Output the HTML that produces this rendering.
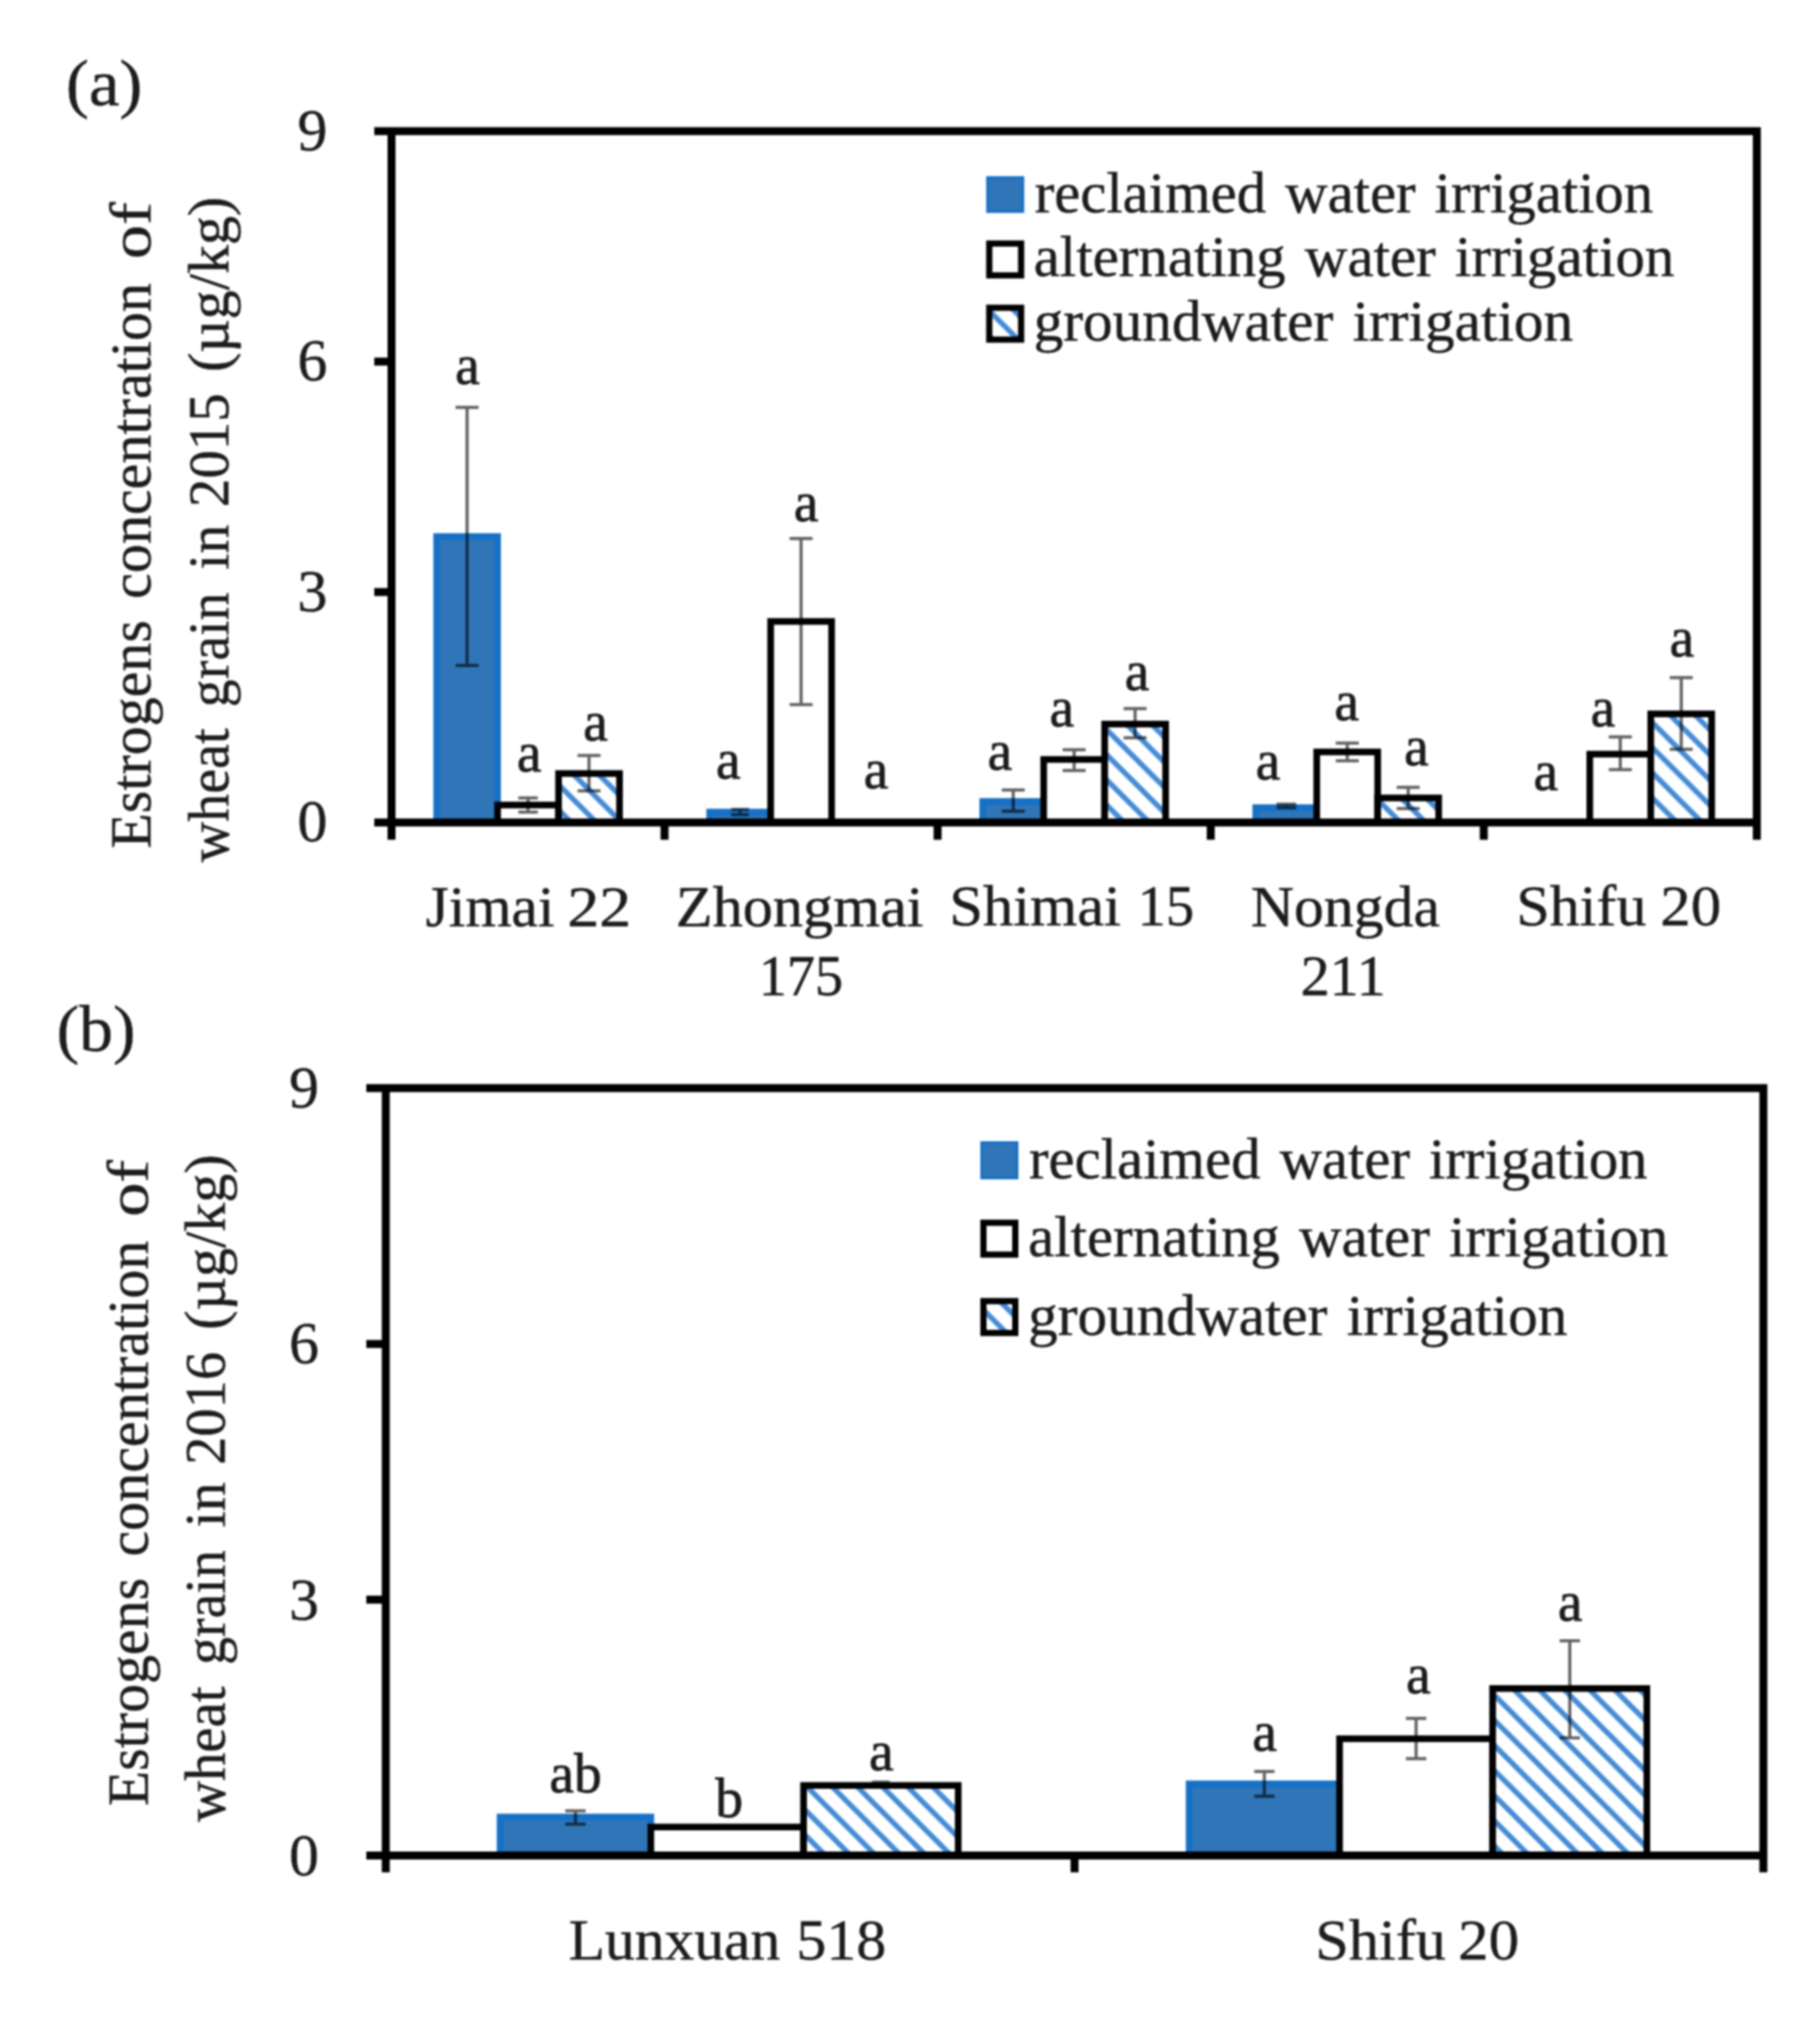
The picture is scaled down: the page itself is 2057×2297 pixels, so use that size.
<!DOCTYPE html>
<html lang="en"><head><meta charset="utf-8"><title>Estrogens concentration of wheat grain</title>
<style>
html,body{margin:0;padding:0;background:#fff;}
body{width:2057px;height:2297px;overflow:hidden;}
svg{display:block;font-family:"Liberation Serif", serif;fill:#1c1c1c;filter:blur(1.1px);}
svg text{stroke:#1c1c1c;stroke-width:0.5px;}
</style></head><body>
<svg width="2057" height="2297" viewBox="0 0 2057 2297">
<defs>
<pattern id="hatch" patternUnits="userSpaceOnUse" width="28.4" height="28.4" x="0" y="0">
<rect width="28.4" height="28.4" fill="#fff"/>
<path d="M-7.1 -7.1L35.5 35.5M-7.1 21.3L7.1 35.5M21.3 -7.1L35.5 7.1" stroke="#448bd6" stroke-width="6" fill="none"/>
</pattern>
</defs>
<rect width="2057" height="2297" fill="#fff"/>
<rect x="493.5" y="606.5" width="68.9" height="323.3" fill="#2f75b7" stroke="#1670c6" stroke-width="7.5"/>
<rect x="562.4" y="910.0" width="68.9" height="19.8" fill="#fff" stroke="#000" stroke-width="7.5"/>
<rect x="631.3" y="874.4" width="68.9" height="55.4" fill="url(#hatch)" stroke="#000" stroke-width="7.5"/>
<rect x="802.1" y="918.0" width="68.9" height="11.8" fill="#2f75b7" stroke="#1670c6" stroke-width="7.5"/>
<rect x="871.0" y="702.5" width="68.9" height="227.3" fill="#fff" stroke="#000" stroke-width="7.5"/>
<rect x="1110.7" y="906.0" width="68.9" height="23.8" fill="#2f75b7" stroke="#1670c6" stroke-width="7.5"/>
<rect x="1179.6" y="858.5" width="68.9" height="71.3" fill="#fff" stroke="#000" stroke-width="7.5"/>
<rect x="1248.5" y="818.5" width="68.9" height="111.3" fill="url(#hatch)" stroke="#000" stroke-width="7.5"/>
<rect x="1419.3" y="913.0" width="68.9" height="16.8" fill="#2f75b7" stroke="#1670c6" stroke-width="7.5"/>
<rect x="1488.2" y="850.0" width="68.9" height="79.8" fill="#fff" stroke="#000" stroke-width="7.5"/>
<rect x="1557.1" y="902.0" width="68.9" height="27.8" fill="url(#hatch)" stroke="#000" stroke-width="7.5"/>
<rect x="1796.8" y="852.5" width="68.9" height="77.3" fill="#fff" stroke="#000" stroke-width="7.5"/>
<rect x="1865.7" y="807.0" width="68.9" height="122.8" fill="url(#hatch)" stroke="#000" stroke-width="7.5"/>
<path d="M527.9 460.4V752.2M514.9 460.4H540.9M514.9 752.2H540.9" stroke="#000" stroke-width="3.5" fill="none" opacity="0.62"/>
<path d="M596.8 902.0V918.0M585.8 902.0H607.8M585.8 918.0H607.8" stroke="#000" stroke-width="3.5" fill="none" opacity="0.62"/>
<path d="M665.7 854.0V894.0M652.7 854.0H678.7M652.7 894.0H678.7" stroke="#000" stroke-width="3.5" fill="none" opacity="0.62"/>
<path d="M836.5 915.0V921.0M826.5 915.0H846.5M826.5 921.0H846.5" stroke="#000" stroke-width="3.5" fill="none" opacity="0.62"/>
<path d="M905.4 608.8V796.4M892.4 608.8H918.4M892.4 796.4H918.4" stroke="#000" stroke-width="3.5" fill="none" opacity="0.62"/>
<path d="M1145.2 893.0V917.0M1132.2 893.0H1158.2M1132.2 917.0H1158.2" stroke="#000" stroke-width="3.5" fill="none" opacity="0.62"/>
<path d="M1214.0 847.5V871.0M1201.0 847.5H1227.0M1201.0 871.0H1227.0" stroke="#000" stroke-width="3.5" fill="none" opacity="0.62"/>
<path d="M1282.9 801.0V834.0M1269.9 801.0H1295.9M1269.9 834.0H1295.9" stroke="#000" stroke-width="3.5" fill="none" opacity="0.62"/>
<path d="M1453.8 909.0V913.0M1442.8 909.0H1464.8M1442.8 913.0H1464.8" stroke="#000" stroke-width="3.5" fill="none" opacity="0.62"/>
<path d="M1522.7 840.0V860.0M1509.7 840.0H1535.7M1509.7 860.0H1535.7" stroke="#000" stroke-width="3.5" fill="none" opacity="0.62"/>
<path d="M1591.6 890.0V914.0M1578.6 890.0H1604.6M1578.6 914.0H1604.6" stroke="#000" stroke-width="3.5" fill="none" opacity="0.62"/>
<path d="M1831.3 833.0V870.0M1818.3 833.0H1844.3M1818.3 870.0H1844.3" stroke="#000" stroke-width="3.5" fill="none" opacity="0.62"/>
<path d="M1900.2 766.0V847.0M1887.2 766.0H1913.2M1887.2 847.0H1913.2" stroke="#000" stroke-width="3.5" fill="none" opacity="0.62"/>
<path d="M423.0 148.3H1990.1M442.5 148.3V949.3M1985.6 148.3V949.3M423.0 929.8H1985.6" stroke="#000" stroke-width="9" fill="none"/>
<path d="M423.0 669.3H442.5M423.0 408.8H442.5M751.1 929.8V949.3M1059.7 929.8V949.3M1368.4 929.8V949.3M1677.0 929.8V949.3" stroke="#000" stroke-width="9" fill="none"/>
<text x="370.0" y="951.3" font-size="67.5" text-anchor="end">0</text>
<text x="370.0" y="690.8" font-size="67.5" text-anchor="end">3</text>
<text x="370.0" y="430.3" font-size="67.5" text-anchor="end">6</text>
<text x="370.0" y="169.8" font-size="67.5" text-anchor="end">9</text>
<text x="528.3" y="434.0" font-size="62.5" text-anchor="middle" style="stroke-width:0.9px">a</text>
<text x="598.0" y="872.0" font-size="62.5" text-anchor="middle" style="stroke-width:0.9px">a</text>
<text x="673.0" y="836.5" font-size="62.5" text-anchor="middle" style="stroke-width:0.9px">a</text>
<text x="823.0" y="879.5" font-size="62.5" text-anchor="middle" style="stroke-width:0.9px">a</text>
<text x="911.0" y="589.0" font-size="62.5" text-anchor="middle" style="stroke-width:0.9px">a</text>
<text x="990.0" y="890.7" font-size="62.5" text-anchor="middle" style="stroke-width:0.9px">a</text>
<text x="1130.0" y="870.0" font-size="62.5" text-anchor="middle" style="stroke-width:0.9px">a</text>
<text x="1200.0" y="820.5" font-size="62.5" text-anchor="middle" style="stroke-width:0.9px">a</text>
<text x="1285.0" y="780.0" font-size="62.5" text-anchor="middle" style="stroke-width:0.9px">a</text>
<text x="1433.0" y="881.0" font-size="62.5" text-anchor="middle" style="stroke-width:0.9px">a</text>
<text x="1522.0" y="813.5" font-size="62.5" text-anchor="middle" style="stroke-width:0.9px">a</text>
<text x="1600.9" y="865.0" font-size="62.5" text-anchor="middle" style="stroke-width:0.9px">a</text>
<text x="1747.0" y="892.5" font-size="62.5" text-anchor="middle" style="stroke-width:0.9px">a</text>
<text x="1811.5" y="820.8" font-size="62.5" text-anchor="middle" style="stroke-width:0.9px">a</text>
<text x="1900.8" y="742.0" font-size="62.5" text-anchor="middle" style="stroke-width:0.9px">a</text>
<text x="481.1" y="1046.6" font-size="66.5" word-spacing="2.5" textLength="145.5" lengthAdjust="spacingAndGlyphs">Jimai</text>
<text x="641.3" y="1046.6" font-size="66.5" word-spacing="2.5" textLength="72.0" lengthAdjust="spacingAndGlyphs">22</text>
<text x="763.8" y="1046.8" font-size="66.5" word-spacing="2.5" textLength="280.0" lengthAdjust="spacingAndGlyphs">Zhongmai</text>
<text x="857.4" y="1125.2" font-size="66.5" word-spacing="2.5" textLength="95.6" lengthAdjust="spacingAndGlyphs">175</text>
<text x="1073.0" y="1046.4" font-size="66.5" word-spacing="2.5" textLength="193.8" lengthAdjust="spacingAndGlyphs">Shimai</text>
<text x="1285.8" y="1046.4" font-size="66.5" word-spacing="2.5" textLength="63.8" lengthAdjust="spacingAndGlyphs">15</text>
<text x="1413.8" y="1046.8" font-size="66.5" word-spacing="2.5" textLength="213.6" lengthAdjust="spacingAndGlyphs">Nongda</text>
<text x="1469.9" y="1125.2" font-size="66.5" word-spacing="2.5" textLength="96.2" lengthAdjust="spacingAndGlyphs">211</text>
<text x="1713.8" y="1046.4" font-size="66.5" word-spacing="2.5" textLength="147.1" lengthAdjust="spacingAndGlyphs">Shifu</text>
<text x="1876.6" y="1046.4" font-size="66.5" word-spacing="2.5" textLength="68.6" lengthAdjust="spacingAndGlyphs">20</text>
<rect x="1116.1" y="200.7" width="40" height="38.5" fill="#2f75b7" stroke="#1670c6" stroke-width="3"/>
<text x="1169.4" y="239.5" font-size="66.5" word-spacing="5" textLength="699.1" lengthAdjust="spacingAndGlyphs">reclaimed water irrigation</text>
<rect x="1118.1" y="275.3" width="36" height="36" fill="#fff" stroke="#000" stroke-width="7"/>
<text x="1168.3" y="312.1" font-size="66.5" word-spacing="5" textLength="724.1" lengthAdjust="spacingAndGlyphs">alternating water irrigation</text>
<rect x="1118.1" y="347.9" width="36" height="36" fill="url(#hatch)" stroke="#000" stroke-width="7"/>
<text x="1168.3" y="384.7" font-size="66.5" word-spacing="5" textLength="609.7" lengthAdjust="spacingAndGlyphs">groundwater irrigation</text>
<text x="74.5" y="119.2" font-size="74" textLength="86.4" lengthAdjust="spacingAndGlyphs">(a)</text>
<text transform="translate(170.4 959.2) rotate(-90)" font-size="66.5" textLength="258.2" lengthAdjust="spacingAndGlyphs">Estrogens</text>
<text transform="translate(170.4 677.0) rotate(-90)" font-size="66.5" textLength="357.1" lengthAdjust="spacingAndGlyphs">concentration</text>
<text transform="translate(170.4 292.9) rotate(-90)" font-size="66.5" textLength="64.3" lengthAdjust="spacingAndGlyphs">of</text>
<text transform="translate(257.7 974.8) rotate(-90)" font-size="66.5" textLength="151.3" lengthAdjust="spacingAndGlyphs">wheat</text>
<text transform="translate(257.7 799.4) rotate(-90)" font-size="66.5" textLength="129.7" lengthAdjust="spacingAndGlyphs">grain</text>
<text transform="translate(257.7 643.9) rotate(-90)" font-size="66.5" textLength="50.9" lengthAdjust="spacingAndGlyphs">in</text>
<text transform="translate(257.7 573.2) rotate(-90)" font-size="66.5" textLength="128.6" lengthAdjust="spacingAndGlyphs">2015</text>
<text transform="translate(257.7 420.6) rotate(-90)" font-size="66.5" textLength="198.3" lengthAdjust="spacingAndGlyphs">(µg/kg)</text>
<rect x="565.2" y="2054.0" width="170.4" height="43.5" fill="#2f75b7" stroke="#1670c6" stroke-width="7.5"/>
<rect x="735.6" y="2065.3" width="172.6" height="32.2" fill="#fff" stroke="#000" stroke-width="7.5"/>
<rect x="908.2" y="2018.3" width="174.8" height="79.2" fill="url(#hatch)" stroke="#000" stroke-width="7.5"/>
<rect x="1344.0" y="2016.5" width="170.0" height="81.0" fill="#2f75b7" stroke="#1670c6" stroke-width="7.5"/>
<rect x="1514.0" y="1965.5" width="173.0" height="132.0" fill="#fff" stroke="#000" stroke-width="7.5"/>
<rect x="1687.0" y="1908.7" width="174.3" height="188.8" fill="url(#hatch)" stroke="#000" stroke-width="7.5"/>
<path d="M650.4 2047.0V2062.0M638.9 2047.0H661.9M638.9 2062.0H661.9" stroke="#000" stroke-width="3.5" fill="none" opacity="0.62"/>
<path d="M995.6 2014.5V2020.0M985.6 2014.5H1005.6M985.6 2020.0H1005.6" stroke="#000" stroke-width="3.5" fill="none" opacity="0.62"/>
<path d="M1429.0 2002.4V2030.5M1417.5 2002.4H1440.5M1417.5 2030.5H1440.5" stroke="#000" stroke-width="3.5" fill="none" opacity="0.62"/>
<path d="M1600.5 1942.6V1988.0M1589.0 1942.6H1612.0M1589.0 1988.0H1612.0" stroke="#000" stroke-width="3.5" fill="none" opacity="0.62"/>
<path d="M1774.2 1854.7V1964.6M1762.7 1854.7H1785.7M1762.7 1964.6H1785.7" stroke="#000" stroke-width="3.5" fill="none" opacity="0.62"/>
<path d="M414.0 1230.0H1997.5M436.0 1230.0V2116.5M1993.0 1230.0V2116.5M414.0 2097.5H1993.0" stroke="#000" stroke-width="9" fill="none"/>
<path d="M414.0 1808.3H436.0M414.0 1519.2H436.0M1214.5 2097.5V2116.5" stroke="#000" stroke-width="9" fill="none"/>
<text x="360.5" y="2119.7" font-size="67.5" text-anchor="end">0</text>
<text x="360.5" y="1830.5" font-size="67.5" text-anchor="end">3</text>
<text x="360.5" y="1541.4" font-size="67.5" text-anchor="end">6</text>
<text x="360.5" y="1252.2" font-size="67.5" text-anchor="end">9</text>
<text x="650.5" y="2026.2" font-size="62.5" text-anchor="middle" style="stroke-width:0.9px">ab</text>
<text x="824.0" y="2053.8" font-size="62.5" text-anchor="middle" style="stroke-width:0.9px">b</text>
<text x="996.0" y="2001.0" font-size="62.5" text-anchor="middle" style="stroke-width:0.9px">a</text>
<text x="1429.4" y="1979.0" font-size="62.5" text-anchor="middle" style="stroke-width:0.9px">a</text>
<text x="1603.0" y="1914.0" font-size="62.5" text-anchor="middle" style="stroke-width:0.9px">a</text>
<text x="1774.7" y="1831.9" font-size="62.5" text-anchor="middle" style="stroke-width:0.9px">a</text>
<text x="642.8" y="2214.8" font-size="66.5" word-spacing="2.5" textLength="239.0" lengthAdjust="spacingAndGlyphs">Lunxuan</text>
<text x="900.0" y="2214.8" font-size="66.5" word-spacing="2.5" textLength="101.7" lengthAdjust="spacingAndGlyphs">518</text>
<text x="1486.5" y="2214.8" font-size="66.5" word-spacing="2.5" textLength="147.7" lengthAdjust="spacingAndGlyphs">Shifu</text>
<text x="1648.0" y="2214.8" font-size="66.5" word-spacing="2.5" textLength="68.9" lengthAdjust="spacingAndGlyphs">20</text>
<rect x="1109.5" y="1291.6" width="40" height="40" fill="#2f75b7" stroke="#1670c6" stroke-width="3"/>
<text x="1163.0" y="1331.7" font-size="66.5" word-spacing="5" textLength="699.0" lengthAdjust="spacingAndGlyphs">reclaimed water irrigation</text>
<rect x="1111.5" y="1382.2" width="36" height="36" fill="#fff" stroke="#000" stroke-width="7"/>
<text x="1161.9" y="1420.3" font-size="66.5" word-spacing="5" textLength="723.6" lengthAdjust="spacingAndGlyphs">alternating water irrigation</text>
<rect x="1111.5" y="1470.8" width="36" height="36" fill="url(#hatch)" stroke="#000" stroke-width="7"/>
<text x="1161.9" y="1508.9" font-size="66.5" word-spacing="5" textLength="609.5" lengthAdjust="spacingAndGlyphs">groundwater irrigation</text>
<text x="64.0" y="1188.4" font-size="74" textLength="89.2" lengthAdjust="spacingAndGlyphs">(b)</text>
<text transform="translate(167.4 2041.8) rotate(-90)" font-size="66.5" textLength="258.2" lengthAdjust="spacingAndGlyphs">Estrogens</text>
<text transform="translate(167.4 1759.6) rotate(-90)" font-size="66.5" textLength="357.1" lengthAdjust="spacingAndGlyphs">concentration</text>
<text transform="translate(167.4 1375.5) rotate(-90)" font-size="66.5" textLength="64.3" lengthAdjust="spacingAndGlyphs">of</text>
<text transform="translate(254.1 2059.5) rotate(-90)" font-size="66.5" textLength="153.0" lengthAdjust="spacingAndGlyphs">wheat</text>
<text transform="translate(254.1 1882.0) rotate(-90)" font-size="66.5" textLength="129.7" lengthAdjust="spacingAndGlyphs">grain</text>
<text transform="translate(254.1 1726.5) rotate(-90)" font-size="66.5" textLength="50.9" lengthAdjust="spacingAndGlyphs">in</text>
<text transform="translate(254.1 1655.8) rotate(-90)" font-size="66.5" textLength="127.6" lengthAdjust="spacingAndGlyphs">2016</text>
<text transform="translate(254.1 1503.2) rotate(-90)" font-size="66.5" textLength="198.3" lengthAdjust="spacingAndGlyphs">(µg/kg)</text>
</svg>
</body></html>
